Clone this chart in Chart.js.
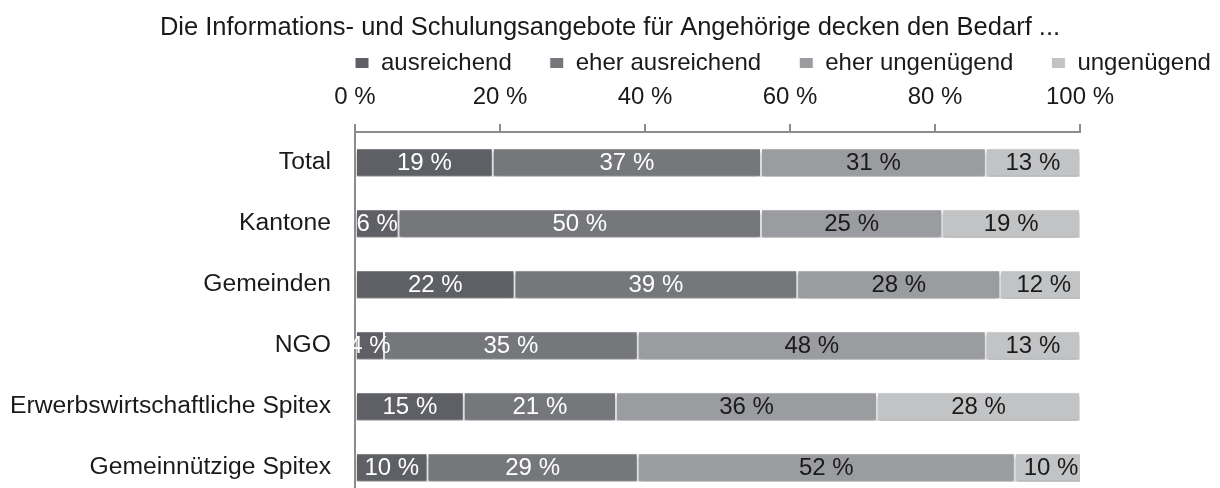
<!DOCTYPE html>
<html>
<head>
<meta charset="utf-8">
<script src="https://cdn.jsdelivr.net/npm/chart.js@4.4.1/dist/chart.umd.min.js"></script>
<style>
  body { margin: 0; background: #fff; }
  #clip { width: 1220px; height: 488px; overflow: hidden; }
  #box { position: relative; width: 1220px; height: 500px; }
</style>
</head>
<body>
<div id="clip"><div id="box"><canvas id="chart-angebote"></canvas></div></div>
<script>
const categories = ['Total', 'Kantone', 'Gemeinden', 'NGO', 'Erwerbswirtschaftliche Spitex', 'Gemeinnützige Spitex'];
const seriesNames = ['ausreichend', 'eher ausreichend', 'eher ungenügend', 'ungenügend'];
const ausreichend = [19, 6, 22, 4, 15, 10];
const eherAusreichend = [37, 50, 39, 35, 21, 29];
const eherUngenuegend = [31, 25, 28, 48, 36, 52];
const ungenuegend = [13, 19, 12, 13, 28, 10];
const percentTicks = [0, 20, 40, 60, 80, 100];

const barColors = ['#5e6065', '#75777b', '#9b9c9f', '#c2c3c5'];
const labelColors = ['#ffffff', '#ffffff', '#1a1a1a', '#1a1a1a'];
const FONT = "'Liberation Sans', Arial, sans-serif";

// shadow under the bars + value labels in the middle of each segment
const barExtras = {
  id: 'barExtras',
  afterLayout(chart) {
    // legend starts at the left edge of the plot, like the original
    const lg = chart.legend;
    const pad = lg.options.labels.padding;
    lg.left = chart.chartArea.left - pad;
    lg.right = lg.left + chart.width;
  },
  beforeDatasetsDraw(chart) {
    const ctx = chart.ctx;
    ctx.save();
    ctx.shadowColor = 'rgba(0,0,0,0.35)';
    ctx.shadowBlur = 4;
    ctx.shadowOffsetY = 3;
  },
  afterDatasetsDraw(chart) {
    const ctx = chart.ctx;
    ctx.restore();
    ctx.save();
    ctx.font = '24px ' + FONT;
    ctx.textAlign = 'center';
    ctx.textBaseline = 'middle';
    chart.data.datasets.forEach(function(ds, i) {
      const meta = chart.getDatasetMeta(i);
      ctx.fillStyle = labelColors[i];
      meta.data.forEach(function(el, j) {
        const p = el.getCenterPoint();
        ctx.fillText(ds.data[j] + ' %', p.x, p.y + 1);
      });
    });
    ctx.restore();
  }
};

const series = [ausreichend, eherAusreichend, eherUngenuegend, ungenuegend];

new Chart(document.getElementById('chart-angebote'), {
  type: 'bar',
  data: {
    labels: categories,
    datasets: series.map(function(values, i) {
      return {
        label: seriesNames[i],
        data: values,
        backgroundColor: barColors[i],
        borderColor: '#ffffff',
        borderWidth: 1,
        borderSkipped: false,
        barPercentage: 0.47,
        categoryPercentage: 1.0
      };
    })
  },
  options: {
    indexAxis: 'y',
    responsive: true,
    maintainAspectRatio: false,
    animation: false,
    layout: { padding: { bottom: 2 } },
    plugins: {
      tooltip: { enabled: false },
      title: {
        display: true,
        text: 'Die Informations- und Schulungsangebote für Angehörige decken den Bedarf ...',
        color: '#1a1a1a',
        font: { family: FONT, size: 25.5, weight: 'normal' },
        padding: { top: 13, bottom: -30.6 }
      },
      legend: {
        position: 'top',
        align: 'start',
        labels: {
          color: '#1a1a1a',
          font: { family: FONT, size: 24 },
          boxWidth: 14,
          boxHeight: 11,
          padding: 38
        }
      }
    },
    scales: {
      x: {
        position: 'top',
        stacked: true,
        min: 0,
        max: 100,
        afterBuildTicks: function(s) { s.ticks = percentTicks.map(function(v) { return { value: v }; }); },
        afterFit: function(s) { s.paddingRight = 140; s.height = 47; },
        ticks: {
          callback: function(v) { return v + ' %'; },
          color: '#1a1a1a',
          font: { family: FONT, size: 24, lineHeight: 1 },
          padding: 15,
          maxRotation: 0
        },
        grid: { drawOnChartArea: false, tickLength: 8, color: '#8c8c8c', lineWidth: 2 },
        border: { color: '#8c8c8c', width: 2 }
      },
      y: {
        stacked: true,
        afterFit: function(s) { s.width = 355; s.paddingTop = 0; s.paddingBottom = 0; },
        ticks: {
          color: '#1a1a1a',
          font: { family: FONT, size: 24.7 },
          padding: 16
        },
        grid: { display: false },
        border: { color: '#8c8c8c', width: 2 }
      }
    }
  },
  plugins: [barExtras]
});
</script>
</body>
</html>
